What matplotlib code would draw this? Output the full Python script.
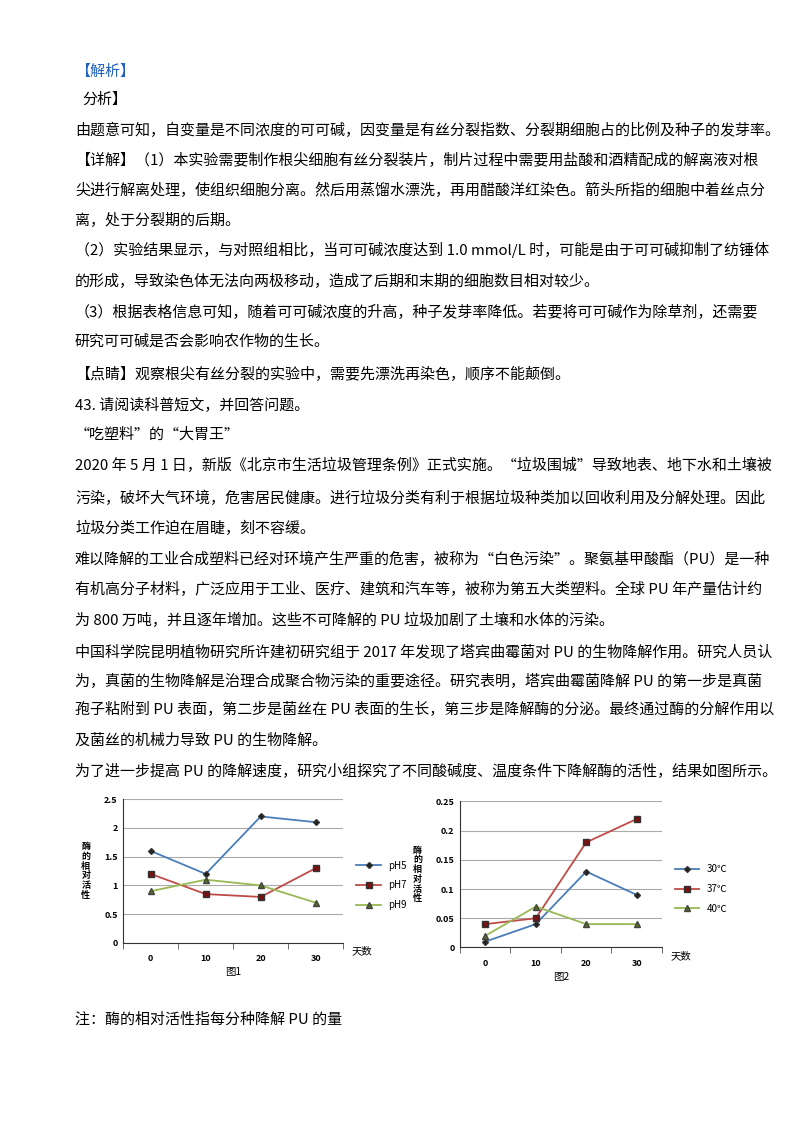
import matplotlib.pyplot as plt
import numpy as np

plt.rcParams['font.family'] = ['Noto Sans CJK SC', 'DejaVu Sans']

days = ['0', '10', '20', '30']
ph5 = [1.6, 1.2, 2.2, 2.1]
ph7 = [1.2, 0.85, 0.8, 1.3]
ph9 = [0.9, 1.1, 1.0, 0.7]
t30 = [0.01, 0.04, 0.13, 0.09]
t37 = [0.04, 0.05, 0.18, 0.22]
t40 = [0.02, 0.07, 0.04, 0.04]

lines = [
    (72, 75, '【解析】', '#2060c0'),
    (100, 82, '分析】', 'black'),
    (130, 75, '由题意可知，自变量是不同浓度的可可碱，因变量是有丝分裂指数、分裂期细胞占的比例及种子的发芽率。', 'black'),
    (160, 75, '【详解】（1）本实验需要制作根尖细胞有丝分裂装片，制片过程中需要用盐酸和酒精配成的解离液对根', 'black'),
    (190, 75, '尖进行解离处理，使组织细胞分离。然后用蒸馏水漂洗，再用醋酸洋红染色。箭头所指的细胞中着丝点分', 'black'),
    (220, 75, '离，处于分裂期的后期。', 'black'),
    (250, 75, '（2）实验结果显示，与对照组相比，当可可碱浓度达到 1.0 mmol/L 时，可能是由于可可碱抑制了纺锤体', 'black'),
    (282, 75, '的形成，导致染色体无法向两极移动，造成了后期和末期的细胞数目相对较少。', 'black'),
    (312, 75, '（3）根据表格信息可知，随着可可碱浓度的升高，种子发芽率降低。若要将可可碱作为除草剂，还需要', 'black'),
    (342, 75, '研究可可碱是否会影响农作物的生长。', 'black'),
    (374, 75, '【点睛】观察根尖有丝分裂的实验中，需要先漂洗再染色，顺序不能颠倒。', 'black'),
    (405, 75, '43. 请阅读科普短文，并回答问题。', 'black'),
    (435, 75, '“吃塑料”的“大胃王”', 'black'),
    (465, 75, '2020 年 5 月 1 日，新版《北京市生活垃圾管理条例》正式实施。“垃圾围城”导致地表、地下水和土壤被', 'black'),
    (498, 75, '污染，破坏大气环境，危害居民健康。进行垃圾分类有利于根据垃圾种类加以回收利用及分解处理。因此', 'black'),
    (528, 75, '垃圾分类工作迫在眉睫，刻不容缓。', 'black'),
    (559, 75, '难以降解的工业合成塑料已经对环境产生严重的危害，被称为“白色污染”。聚氨基甲酸酯（PU）是一种', 'black'),
    (590, 75, '有机高分子材料，广泛应用于工业、医疗、建筑和汽车等，被称为第五大类塑料。全球 PU 年产量估计约', 'black'),
    (620, 75, '为 800 万吨，并且逐年增加。这些不可降解的 PU 垃圾加剧了土壤和水体的污染。', 'black'),
    (652, 75, '中国科学院昆明植物研究所许建初研究组于 2017 年发现了塔宾曲霉菌对 PU 的生物降解作用。研究人员认', 'black'),
    (681, 75, '为，真菌的生物降解是治理合成聚合物污染的重要途径。研究表明，塔宾曲霉菌降解 PU 的第一步是真菌', 'black'),
    (710, 75, '孢子粘附到 PU 表面，第二步是菌丝在 PU 表面的生长，第三步是降解酶的分泌。最终通过酶的分解作用以', 'black'),
    (741, 75, '及菌丝的机械力导致 PU 的生物降解。', 'black'),
    (771, 75, '为了进一步提高 PU 的降解速度，研究小组探究了不同酸碱度、温度条件下降解酶的活性，结果如图所示。', 'black'),
    (1020, 75, '注：酶的相对活性指每分种降解 PU 的量', 'black'),
]

fig = plt.figure(figsize=(8, 11.32), dpi=100)
H = 1132
for y, x, s, c in lines:
    fig.text(x / 800, 1 - y / H, s, fontsize=10.8, color=c, va='center', ha='left')


def draw(rect, series, labels, ylim, yticks, ylabels, leg_y, title, lab_x):
    ax = fig.add_axes(rect)
    x = np.arange(len(days))
    styles = [('#4a7ebb', 'D', 3), ('#be4b48', 's', 5), ('#98b954', '^', 4)]
    for vals, lab, (c, m, ms) in zip(series, labels, styles):
        ax.plot(x, vals, color=c, marker=m, ms=ms, lw=1.3, label=lab,
                mec='#333' if m != '^' else '#444', mfc='#222' if m == 'D' else ('#7a1010' if m == 's' else '#556b20'))
    ax.set_xlim(-0.5, 3.5)
    ax.set_ylim(*ylim)
    ax.set_yticks(yticks)
    ax.set_yticklabels(ylabels, fontsize=6.5, fontweight='bold')
    ax.set_xticks(x)
    ax.set_xticklabels(days, fontsize=6.5, fontweight='bold')
    ax.set_xticks(np.arange(-0.5, 4, 1), minor=True)
    ax.tick_params(axis='x', which='major', length=0, pad=8)
    ax.tick_params(axis='x', which='minor', length=4, direction='out', color='#555')
    ax.tick_params(axis='y', length=0, pad=4)
    ax.grid(axis='y', color='#aaaaaa', lw=0.8)
    ax.set_axisbelow(True)
    for s in ['top', 'right']:
        ax.spines[s].set_visible(False)
    ax.spines['left'].set_color('#333')
    ax.spines['bottom'].set_color('#333')
    ax.legend(loc='center left', bbox_to_anchor=(1.02, leg_y), frameon=False,
              fontsize=7, handlelength=2.5, labelspacing=1.0)
    ax.text(1.04, -0.06, '天数', transform=ax.transAxes, fontsize=7.5, ha='left', va='center')
    ax.text(0.5, -0.2, title, transform=ax.transAxes, fontsize=7.5, ha='center', va='center')
    ax.text(lab_x, 0.5, '酶\n的\n相\n对\n活\n性', transform=ax.transAxes, fontsize=6.5,
            ha='center', va='center', fontweight='bold', linespacing=1.1)
    return ax


draw([0.154, 0.167, 0.275, 0.127], [ph5, ph7, ph9], ['pH5', 'pH7', 'pH9'],
     (0, 2.5), [0, 0.5, 1, 1.5, 2, 2.5], ['0', '0.5', '1', '1.5', '2', '2.5'],
     0.4, '图1', -0.17)
draw([0.575, 0.163, 0.2525, 0.129], [t30, t37, t40], ['30℃', '37℃', '40℃'],
     (0, 0.25), [0, 0.05, 0.1, 0.15, 0.2, 0.25], ['0', '0.05', '0.1', '0.15', '0.2', '0.25'],
     0.4, '图2', -0.21)

fig.savefig('out.png', dpi=100)
